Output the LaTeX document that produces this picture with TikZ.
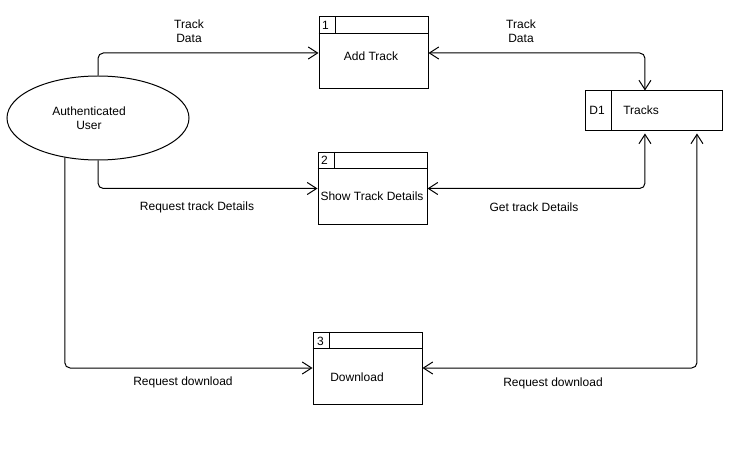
\documentclass[tikz,border=0pt]{standalone}
\usepackage{fontspec}
\setmainfont{Liberation Sans}
\usetikzlibrary{shapes.geometric,arrows.meta}

\begin{document}
\begin{tikzpicture}[
            x=0.75pt, y=-0.75pt,
            every node/.style={font=\fontsize{9}{10.5}\selectfont, inner sep=0pt},
            proc/.style={rectangle, draw, line width=0.75pt, minimum width=81.75pt, minimum height=54pt},
            store/.style={rectangle, draw, line width=0.75pt, minimum width=102.75pt, minimum height=30pt},
            actor/.style={ellipse, draw, line width=0.75pt, minimum width=136.5pt, minimum height=63pt},
            flow/.style={line width=0.75pt, rounded corners=4pt, -{Straight Barb[length=7pt,width=9pt]}},
            twoway/.style={line width=0.75pt, rounded corners=4pt, {Straight Barb[length=7pt,width=9pt]}-{Straight Barb[length=7pt,width=9pt]}},
            lbl/.style={align=center}
        ]
            \useasboundingbox (0,0) rectangle (746,452);

            % External entity
            \node[actor] (user) at (98,118) {};
            \node[lbl] at (89,118) {Authenticated\\User};

            % Process 1
            \node[proc] (p1) at (373.5,53) {};
            \draw[line width=0.75pt] ([yshift=-12.75pt]p1.north west) -- ([yshift=-12.75pt]p1.north east);
            \draw[line width=0.75pt] ([xshift=12.75pt]p1.north west) -- ++(0,17);
            \node at (325.5,25.5) {1};
            \node at (371,56) {Add Track};

            % Process 2
            \node[proc] (p2) at (372.5,188.5) {};
            \draw[line width=0.75pt] ([yshift=-12.75pt]p2.north west) -- ([yshift=-12.75pt]p2.north east);
            \draw[line width=0.75pt] ([xshift=12.75pt]p2.north west) -- ++(0,17);
            \node at (324.5,160.5) {2};
            \node at (372,196) {Show Track Details};

            % Process 3
            \node[proc] (p3) at (367.5,368) {};
            \draw[line width=0.75pt] ([yshift=-12.75pt]p3.north west) -- ([yshift=-12.75pt]p3.north east);
            \draw[line width=0.75pt] ([xshift=12.75pt]p3.north west) -- ++(0,17);
            \node at (320.5,341) {3};
            \node at (357,377) {Download};

            % Data store
            \node[store] (ds) at (653.5,111) {};
            \draw[line width=0.75pt] ([xshift=20.25pt]ds.north west) -- ([xshift=20.25pt]ds.south west);
            \node at (597,110) {D1};
            \node[anchor=west] at (623,110) {Tracks};

            % Flows
            \draw[flow] (user.north) |- (p1.west);
            \node[lbl] at (189,31) {Track\\Data};

            \draw[twoway] (p1.east) -| ([xshift=-6.4pt]ds.north);
            \node[lbl] at (521,31) {Track\\Data};

            \draw[flow] (user.south) |- (p2.west);
            \node[lbl] at (197,207) {Request track Details};

            \draw[twoway] (p2.east) -| ([xshift=-6.4pt,yshift=-1.5pt]ds.south);
            \node[lbl] at (534,207) {Get track Details};

            \draw[flow] (user.230.6) |- (p3.west);
            \node[lbl] at (183,382) {Request download};

            \draw[twoway] (p3.east) -| ([xshift=32.6pt,yshift=-1.5pt]ds.south);
            \node[lbl] at (553,383) {Request download};

        \end{tikzpicture}
\end{document}
